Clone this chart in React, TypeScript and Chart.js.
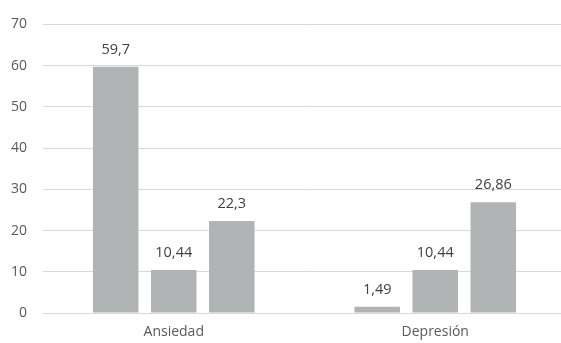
import React, { useEffect, useRef } from "react";
import { Chart, registerables } from "chart.js";

Chart.register(...registerables);

const categories = ["Ansiedad", "Depresión"];
const series1 = [59.7, 1.49];
const series2 = [10.44, 10.44];
const series3 = [22.3, 26.86];
const labels1 = ["59,7", "1,49"];
const labels2 = ["10,44", "10,44"];
const labels3 = ["22,3", "26,86"];
const yMin = 0;
const yMax = 70;
const yStep = 10;

const BAR = "#B1B4B4";
const FONT = "'Open Sans', sans-serif";

const dataLabelPlugin = {
  id: "dataLabels",
  afterDatasetsDraw(chart: any) {
    const ctx = chart.ctx;
    const all = [labels1, labels2, labels3];
    ctx.save();
    ctx.fillStyle = "#404040";
    ctx.font = `14.5px ${FONT}`;
    ctx.textAlign = "center";
    ctx.textBaseline = "middle";
    chart.data.datasets.forEach((ds: any, i: number) => {
      const meta = chart.getDatasetMeta(i);
      meta.data.forEach((el: any, j: number) => {
        ctx.fillText(all[i][j], el.x, el.y - 17);
      });
    });
    ctx.restore();
  },
};

export default function App() {
  const ref = useRef<HTMLCanvasElement | null>(null);
  useEffect(() => {
    if (!ref.current) return;
    const ds = (data: number[]) => ({
      data,
      backgroundColor: BAR,
      borderWidth: 0,
      categoryPercentage: 0.666,
      barPercentage: 0.784,
    });
    const chart = new Chart(ref.current, {
      type: "bar",
      data: {
        labels: categories,
        datasets: [ds(series1), ds(series2), ds(series3)],
      },
      options: {
        animation: false,
        responsive: false,
        maintainAspectRatio: false,
        layout: { padding: { top: 23, right: 0, left: 0, bottom: 0 } },
        plugins: { legend: { display: false }, tooltip: { enabled: false } },
        scales: {
          x: {
            grid: { display: false, drawTicks: false },
            border: { display: false },
            ticks: { color: "#595959", font: { family: FONT, size: 14 }, padding: 11 },
            afterFit: (s: any) => { s.height = 30; },
          },
          y: {
            min: yMin,
            max: yMax,
            ticks: { stepSize: yStep, color: "#595959", font: { family: FONT, size: 14 }, padding: 16 },
            grid: { color: "#D9D9D9", lineWidth: 1, drawTicks: false },
            border: { display: false },
            afterFit: (s: any) => { s.width = 43; },
          },
        },
      },
      plugins: [dataLabelPlugin],
    });
    return () => chart.destroy();
  }, []);
  return (
    <div style={{ position: "fixed", left: 0, top: 0, width: 561, height: 343, overflow: "hidden", background: "#fff" }}>
      <canvas ref={ref} width={566} height={343} style={{ display: "block" }} />
    </div>
  );
}
